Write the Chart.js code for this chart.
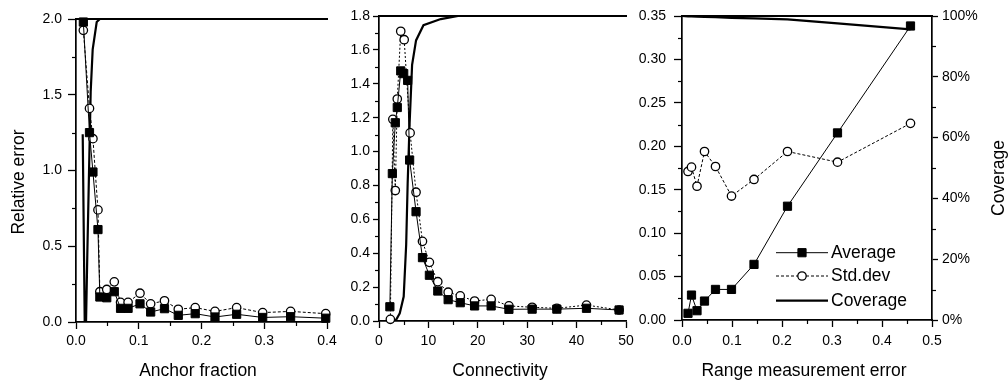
<!DOCTYPE html>
<html><head><meta charset="utf-8">
<script src="https://cdn.jsdelivr.net/npm/chart.js@4.4.1/dist/chart.umd.min.js"></script>
<style>
html,body{margin:0;padding:0;background:#fff;width:1008px;height:381px;overflow:hidden;}
canvas.p{position:absolute;top:0;}
</style></head><body>
<canvas id="c1" class="p" width="340" height="381" style="left:0px"></canvas>
<canvas id="c2" class="p" width="300" height="381" style="left:336px"></canvas>
<canvas id="c3" class="p" width="378" height="381" style="left:630px"></canvas>
<script>
// ---------- Panel 1: Anchor fraction ----------
const anchorFraction = [0.0117, 0.0215, 0.027, 0.035, 0.038, 0.049, 0.061, 0.071, 0.083, 0.102, 0.119, 0.141, 0.163, 0.19, 0.2215, 0.256, 0.2975, 0.342, 0.398];
const anchorAvg      = [1.98, 1.25, 0.99, 0.61, 0.165, 0.16, 0.2, 0.09, 0.09, 0.12, 0.066, 0.088, 0.044, 0.055, 0.033, 0.051, 0.03, 0.035, 0.025];
const anchorStd      = [1.925, 1.41, 1.21, 0.74, 0.2, 0.215, 0.265, 0.13, 0.13, 0.19, 0.12, 0.14, 0.084, 0.095, 0.07, 0.095, 0.062, 0.07, 0.055];
const anchorCovX     = [0.0107, 0.0139, 0.016, 0.018, 0.0213, 0.0234, 0.0266, 0.033, 0.038, 0.1, 0.2, 0.3, 0.4];
const anchorCov      = [62, 0, 0, 22, 55, 76, 90, 99, 100, 100, 100, 100, 100];
const anchorXTicks   = [0, 0.4, 0.1];
const anchorYTicks   = [0, 2.0, 0.5];
const anchorXMinor   = [0.05, 0.15, 0.25, 0.35];
const anchorYMinor   = [0.25, 0.75, 1.25, 1.75];

// ---------- Panel 2: Connectivity ----------
const connAvgX  = [2.2, 2.7, 3.3, 3.7, 4.4, 5.0, 5.8, 6.2, 7.5, 8.8, 10.2, 11.9, 14.0, 16.45, 19.35, 22.7, 26.3, 31.0, 36.0, 42.0, 48.6];
const connAvg   = [0.084, 0.87, 1.17, 1.26, 1.476, 1.46, 1.42, 0.95, 0.645, 0.374, 0.27, 0.177, 0.126, 0.108, 0.089, 0.089, 0.069, 0.07, 0.07, 0.075, 0.065];
const connStdX  = [2.3, 2.8, 3.3, 3.7, 4.4, 5.1, 6.3, 7.5, 8.8, 10.2, 11.9, 14.0, 16.45, 19.35, 22.7, 26.3, 31.0, 36.0, 42.0, 48.6];
const connStd   = [0.01, 1.19, 0.77, 1.31, 1.71, 1.66, 1.11, 0.76, 0.47, 0.346, 0.232, 0.17, 0.148, 0.118, 0.128, 0.089, 0.081, 0.075, 0.094, 0.065];
const connCovX  = [2.6, 3.5, 4.2, 5.0, 5.5, 5.8, 6.2, 6.7, 7.5, 9.0, 12.5, 16, 50];
const connCov   = [0, 0.5, 2.5, 8, 25, 45, 65, 84, 92, 97, 99, 100, 100];
const connXTicks = [0, 50, 10];
const connYTicks = [0, 1.8, 0.2];
const connXMinor = [5, 15, 25, 35, 45];
const connYMinor = [0.1, 0.3, 0.5, 0.7, 0.9, 1.1, 1.3, 1.5, 1.7];

// ---------- Panel 3: Range measurement error ----------
const rangeErr   = [0.012, 0.019, 0.03, 0.045, 0.067, 0.099, 0.144, 0.211, 0.311, 0.457];
const rangeAvg   = [0.0077, 0.0287, 0.0107, 0.0218, 0.0352, 0.0352, 0.064, 0.131, 0.2154, 0.3385];
const rangeStd   = [0.171, 0.176, 0.154, 0.194, 0.1767, 0.1427, 0.1618, 0.194, 0.1817, 0.2264];
const rangeCovX  = [0.0, 0.012, 0.019, 0.03, 0.045, 0.067, 0.099, 0.144, 0.211, 0.311, 0.457];
const rangeCov   = [100, 99.9, 99.9, 99.8, 99.7, 99.6, 99.4, 99.2, 98.9, 97.6, 95.6];
const rangeXTicks = [0, 0.5, 0.1];
const rangeYTicks = [0, 0.35, 0.05];
const rangeCovTicks = [0, 100, 20];
const rangeXMinor = [0.05, 0.15, 0.25, 0.35, 0.45];
const rangeYMinor = [0.025, 0.075, 0.125, 0.175, 0.225, 0.275, 0.325];
const rangeCovMinor = [10, 30, 50, 70, 90];

const seriesLabels = ['Average', 'Std.dev', 'Coverage'];

const FONT = 'Liberation Sans, Arial, Helvetica, sans-serif';
const INK = '#000';

function pts(xs, ys) { return xs.map((x, i) => ({x: x, y: ys[i]})); }

const decor = {
  id: 'decor',
  afterDraw(chart, args, o) {
    const ctx = chart.ctx, a = chart.chartArea;
    ctx.save();
    ctx.strokeStyle = '#000';
    ctx.lineWidth = 2;
    ctx.beginPath(); ctx.moveTo(a.left - 1, a.top); ctx.lineTo(a.right + 1, a.top); ctx.stroke();
    ctx.lineWidth = 1.2;
    (o.minor || []).forEach(m => {
      const s = chart.scales[m.axis];
      m.values.forEach(v => {
        const p = Math.round(s.getPixelForValue(v)) + 0.5;
        ctx.beginPath();
        if (s.position === 'bottom') { ctx.moveTo(p, a.bottom); ctx.lineTo(p, a.bottom + m.len); }
        else if (s.position === 'left') { ctx.moveTo(a.left, p); ctx.lineTo(a.left - m.len, p); }
        else { ctx.moveTo(a.right, p); ctx.lineTo(a.right + m.len, p); }
        ctx.stroke();
      });
    });
    ctx.fillStyle = INK;
    ctx.font = '17.5px ' + FONT;
    ctx.textAlign = 'center';
    ctx.textBaseline = 'middle';
    (o.titles || []).forEach(t => {
      ctx.save();
      ctx.translate(t.x, t.y);
      if (t.rot) ctx.rotate(-Math.PI / 2);
      ctx.fillText(t.text, 0, 0);
      ctx.restore();
    });
    if (o.legend) {
      const L = o.legend;
      chart.data.datasets.forEach((ds, i) => {
        const y = L.rows[i];
        ctx.save();
        ctx.strokeStyle = '#000';
        ctx.lineWidth = ds.borderWidth;
        ctx.setLineDash(ds.borderDash || []);
        ctx.beginPath(); ctx.moveTo(L.x0, y); ctx.lineTo(L.x1, y); ctx.stroke();
        ctx.setLineDash([]);
        if (ds.pointRadius > 0) {
          ctx.fillStyle = ds.pointBackgroundColor;
          ctx.strokeStyle = '#000';
          ctx.lineWidth = ds.pointBorderWidth;
          Chart.helpers.drawPoint(ctx, {pointStyle: ds.pointStyle, radius: ds.pointRadius, rotation: 0, borderWidth: ds.pointBorderWidth}, (L.x0 + L.x1) / 2, y);
        }
        ctx.restore();
        ctx.fillStyle = INK;
        ctx.font = '17.5px ' + FONT;
        ctx.textAlign = 'left';
        ctx.textBaseline = 'middle';
        ctx.fillText(ds.label, L.tx, y);
      });
    }
    ctx.restore();
  }
};

function datasets(avg, std, cov, covAxis, dash) {
  return [
    {label: seriesLabels[0], data: avg, showLine: true, borderColor: '#000', borderWidth: 1, pointStyle: 'rect', pointRadius: 5.8, pointBackgroundColor: '#000', pointBorderWidth: 1, clip: false, yAxisID: 'y'},
    {label: seriesLabels[1], data: std, showLine: true, borderColor: '#000', borderWidth: 1, borderDash: dash, pointStyle: 'circle', pointRadius: 4.2, pointBackgroundColor: '#fff', pointBorderWidth: 1.3, clip: false, yAxisID: 'y'},
    {label: seriesLabels[2], data: cov, showLine: true, borderColor: '#000', borderWidth: 2.2, pointRadius: 0, pointStyle: 'line', pointBackgroundColor: '#000', pointBorderWidth: 0, yAxisID: covAxis}
  ];
}

function axis(pos, ticks, fmt, fit, tl, pad, extra) {
  return Object.assign({
    type: 'linear', position: pos, min: ticks[0], max: ticks[1],
    ticks: {stepSize: ticks[2], color: INK, font: {family: FONT, size: 14}, padding: pad, callback: fmt, maxRotation: 0, autoSkip: false},
    grid: {drawOnChartArea: false, drawTicks: true, tickLength: tl, tickWidth: 1.3, tickColor: '#000'},
    border: {display: true, color: '#000', width: 1.7},
    afterFit(s) {
      if (s.isHorizontal()) { s.height = fit; } else { s.width = fit; }
      s.paddingLeft = 0; s.paddingRight = 0; s.paddingTop = 0; s.paddingBottom = 0;
    }
  }, extra || {});
}

function build(id, cfg) {
  return new Chart(document.getElementById(id), {
    type: 'scatter',
    data: {datasets: cfg.datasets},
    options: {
      responsive: false, animation: false, devicePixelRatio: 1,
      layout: {padding: cfg.padding},
      plugins: {legend: {display: false}, tooltip: {enabled: false}, decor: cfg.decor},
      elements: {line: {tension: 0}},
      scales: cfg.scales
    },
    plugins: [decor]
  });
}

// Panel 1
build('c1', {
  datasets: datasets(pts(anchorFraction, anchorAvg), pts(anchorFraction, anchorStd), pts(anchorCovX, anchorCov), 'cov', [3, 2]),
  padding: {left: 0, right: 13, top: 19, bottom: 0},
  scales: {
    x: axis('bottom', anchorXTicks, v => v.toFixed(1), 59, 7, 4),
    y: axis('left', anchorYTicks, v => v.toFixed(1), 76, 8, 6),
    cov: {type: 'linear', display: false, min: 0, max: 100}
  },
  decor: {
    minor: [{axis: 'x', values: anchorXMinor, len: 4}, {axis: 'y', values: anchorYMinor, len: 4}],
    titles: [{text: 'Relative error', x: 19, y: 182, rot: true}, {text: 'Anchor fraction', x: 198, y: 371}]
  }
});

// Panel 2
build('c2', {
  datasets: datasets(pts(connAvgX, connAvg), pts(connStdX, connStd), pts(connCovX, connCov), 'cov', [2, 2]),
  padding: {left: 0, right: 10, top: 16, bottom: 0},
  scales: {
    x: axis('bottom', connXTicks, v => String(v), 60, 7, 5),
    y: axis('left', connYTicks, v => v.toFixed(1), 43, 6, 3),
    cov: {type: 'linear', display: false, min: 0, max: 100}
  },
  decor: {
    minor: [{axis: 'x', values: connXMinor, len: 4}, {axis: 'y', values: connYMinor, len: 4}],
    titles: [{text: 'Connectivity', x: 500 - 336, y: 371}]
  }
});

// Panel 3
build('c3', {
  datasets: datasets(pts(rangeErr, rangeAvg), pts(rangeErr, rangeStd), pts(rangeCovX, rangeCov), 'y1', [3, 2]),
  padding: {left: 0, right: 0, top: 16, bottom: 0},
  scales: {
    x: axis('bottom', rangeXTicks, v => v.toFixed(1), 61, 7, 5.5),
    y: axis('left', rangeYTicks, v => v.toFixed(2), 52, 8, 8),
    y1: axis('right', rangeCovTicks, v => v + '%', 76, 6, 4)
  },
  decor: {
    minor: [{axis: 'x', values: rangeXMinor, len: 4}, {axis: 'y', values: rangeYMinor, len: 4}, {axis: 'y1', values: rangeCovMinor, len: 4}],
    titles: [{text: 'Range measurement error', x: 804 - 630, y: 371}, {text: 'Coverage', x: 999 - 630, y: 178, rot: true}],
    legend: {x0: 776 - 630, x1: 828 - 630, tx: 831 - 630, rows: [252.7, 276, 300.7]}
  }
});
</script>
</body></html>
